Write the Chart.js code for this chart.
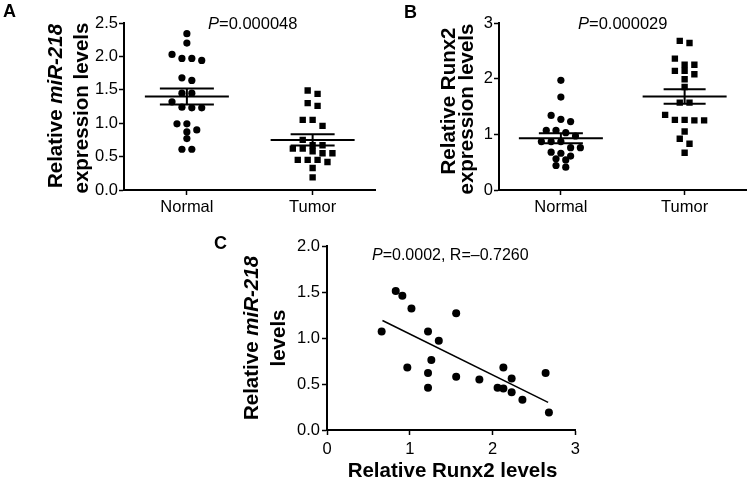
<!DOCTYPE html>
<html lang="en">
<head>
    <meta charset="UTF-8">
    <title>miR-218 and Runx2 expression</title>
    <script src="https://cdn.jsdelivr.net/npm/chart.js"></script>
    <style>
        body { margin: 0; background: #fff; }
        #fig {
            position: relative;
            width: 751px;
            height: 478px;
            overflow: hidden;
            font-family: Arial, "Liberation Sans", Helvetica, sans-serif;
            color: #000;
        }
        .panel { position: absolute; }
        .lbl { position: absolute; white-space: nowrap; line-height: 20px; }
        .letter { font-weight: bold; font-size: 18px; }
        .pval { font-size: 16.5px; }
        .title { font-weight: bold; font-size: 20.5px; }
        .ytitle { transform: translate(-50%, -50%) rotate(-90deg); }
        .xtitle { transform: translate(-50%, -50%); }
    </style>
</head>
<body>
<div id="fig">
    <canvas id="chartA" class="panel" width="380" height="230" style="left:0;top:0;width:380px;height:230px"></canvas>
    <canvas id="chartB" class="panel" width="376" height="230" style="left:375px;top:0;width:376px;height:230px"></canvas>
    <canvas id="chartC" class="panel" width="370" height="248" style="left:215px;top:230px;width:370px;height:248px"></canvas>

    <div class="lbl letter" style="left:3px;top:1px">A</div>
    <div class="lbl letter" style="left:404px;top:2px">B</div>
    <div class="lbl letter" style="left:214px;top:233px">C</div>

    <div class="lbl pval" style="left:208px;top:13px"><i>P</i>=0.000048</div>
    <div class="lbl pval" style="left:578px;top:13px"><i>P</i>=0.000029</div>
    <div class="lbl pval" style="left:372px;top:245px;font-size:16px"><i>P</i>=0.0002, R=&ndash;0.7260</div>

    <div class="lbl title ytitle" style="left:54.5px;top:105.5px">Relative <i>miR-218</i></div>
    <div class="lbl title ytitle" style="left:80.5px;top:107.5px">expression levels</div>
    <div class="lbl title ytitle" style="left:448px;top:100.7px">Relative Runx2</div>
    <div class="lbl title ytitle" style="left:466px;top:109px">expression levels</div>
    <div class="lbl title ytitle" style="left:251px;top:337.5px">Relative <i>miR-218</i></div>
    <div class="lbl title ytitle" style="left:278px;top:338px">levels</div>
    <div class="lbl title xtitle" style="left:452.5px;top:470px">Relative Runx2 levels</div>
</div>

<script>
    // ---- data ----
    const groups = ['Normal', 'Tumor'];

    // A: miR-218 expression
    const mirNormal = [2.34, 2.20, 1.97, 1.94, 1.97, 2.03, 1.68, 1.64, 1.45, 1.45, 1.32,
                       1.23, 1.23, 1.24, 0.99, 0.99, 0.87, 0.90, 0.77, 0.61, 0.61];
    const mirTumor = [1.44, 1.49, 1.30, 1.26, 1.05, 1.05, 0.96, 0.75, 0.67, 0.62, 0.58,
                      0.62, 0.67, 0.55, 0.55, 0.45, 0.45, 0.42, 0.45, 0.33, 0.19];
    const mirMean = [1.40, 0.75];
    const mirSem = [0.12, 0.085];
    const mirTicks = [0, 0.5, 1.0, 1.5, 2.0, 2.5];

    // B: Runx2 expression
    const runxNormal = [1.97, 1.67, 1.34, 1.23, 1.27, 1.07, 1.03, 1.07, 0.97, 0.87, 0.87,
                        0.87, 0.76, 0.76, 0.66, 0.68, 0.61, 0.54, 0.56, 0.41, 0.44];
    const runxTumor = [2.68, 2.64, 2.36, 2.25, 2.25, 2.14, 2.08, 2.14, 1.99, 1.85, 1.57,
                       1.57, 1.35, 1.25, 1.25, 1.26, 1.26, 1.05, 0.92, 0.83, 0.67];
    const runxMean = [0.93, 1.68];
    const runxSem = [0.09, 0.13];
    const runxTicks = [0, 1, 2, 3];

    // C: correlation
    const corrRunx2 = [0.66, 0.83, 0.91, 1.02, 1.22, 1.35, 1.26, 0.97, 1.22, 1.22, 1.56,
                       1.56, 1.84, 2.06, 2.13, 2.13, 2.23, 2.23, 2.36, 2.64, 2.68];
    const corrMir = [1.07, 1.51, 1.46, 1.32, 1.07, 0.97, 0.76, 0.68, 0.62, 0.46, 1.27,
                     0.58, 0.55, 0.46, 0.45, 0.68, 0.56, 0.41, 0.33, 0.62, 0.19];
    const fitRunx2 = [0.67, 2.67];
    const fitMir = [1.19, 0.30];
    const corrXTicks = [0, 1, 2, 3];
    const corrYTicks = [0, 0.5, 1.0, 1.5, 2.0];

    // ---- helpers ----
    Chart.defaults.font.family = 'Arial, "Liberation Sans", Helvetica, sans-serif';
    Chart.defaults.color = '#000';

    // spread points of one group into rows, like a dot plot
    function swarm(values, center, pxPerX, pxPerY) {
        const tolPx = 6.5, stepPx = 10;
        const order = values.map((v, i) => i).sort((a, b) => values[b] - values[a]);
        const rows = [];
        order.forEach(i => {
            const row = rows[rows.length - 1];
            if (row && (values[row[0]] - values[i]) * pxPerY <= tolPx) row.push(i);
            else rows.push([i]);
        });
        const pts = [];
        rows.forEach(row => row.forEach((i, k) => {
            pts.push({ x: center + (k - (row.length - 1) / 2) * stepPx / pxPerX, y: values[i] });
        }));
        return pts;
    }

    function axis(ticks, size, isX, fmt, pad) {
        return {
            type: 'linear',
            min: ticks[0] === undefined ? undefined : ticks[0],
            max: ticks[ticks.length - 1],
            afterBuildTicks: s => { s.ticks = ticks.map(v => ({ value: v })); },
            afterFit: s => { if (isX) s.height = size; else s.width = size; },
            grid: { drawOnChartArea: false, drawTicks: true, tickLength: 5, tickWidth: 1.5, tickColor: '#000' },
            border: { color: '#000', width: 2 },
            ticks: { color: '#000', font: { size: 16.5 }, padding: pad, maxRotation: 0, autoSkip: false, callback: fmt }
        };
    }

    const meanSem = {
        id: 'meanSem',
        afterDatasetsDraw(chart, args, opts) {
            const { ctx, scales: { x, y } } = chart;
            ctx.save();
            ctx.strokeStyle = '#000';
            ctx.lineWidth = 2;
            opts.means.forEach((m, i) => {
                const cx = x.getPixelForValue(i + 1);
                const ym = y.getPixelForValue(m);
                const yt = y.getPixelForValue(m + opts.sems[i]);
                const yb = y.getPixelForValue(m - opts.sems[i]);
                const h = opts.semHalf[i];
                ctx.beginPath();
                ctx.moveTo(cx - opts.meanHalf, ym); ctx.lineTo(cx + opts.meanHalf, ym);
                ctx.moveTo(cx - h, yt); ctx.lineTo(cx + h, yt);
                ctx.moveTo(cx - h, yb); ctx.lineTo(cx + h, yb);
                ctx.moveTo(cx, yt); ctx.lineTo(cx, yb);
                ctx.stroke();
            });
            ctx.restore();
        }
    };

    function dotPlot(id, normal, tumor, ticks, fmt, means, sems, semHalf) {
        const pxPerX = 254 / 2;
        const pxPerY = 167 / (ticks[ticks.length - 1] - ticks[0]);
        return new Chart(document.getElementById(id), {
            type: 'scatter',
            data: {
                datasets: [{
                    data: swarm(normal, 1, pxPerX, pxPerY),
                    pointStyle: 'circle', pointRadius: 3.6, pointHoverRadius: 3.6,
                    backgroundColor: '#000', borderWidth: 0
                }, {
                    data: swarm(tumor, 2, pxPerX, pxPerY),
                    pointStyle: 'rect', pointRadius: 4.5, pointHoverRadius: 4.5,
                    backgroundColor: '#000', borderWidth: 0
                }]
            },
            options: {
                responsive: false,
                animation: false,
                layout: { padding: { left: 0, top: 23, right: 2, bottom: 0 } },
                scales: {
                    x: Object.assign(axis([0.5, 1, 2, 2.5], 40, true, v => groups[v - 1], 3), {
                        afterBuildTicks: s => { s.ticks = [{ value: 1 }, { value: 2 }]; }
                    }),
                    y: axis(ticks, 124, false, fmt, 1)
                },
                plugins: {
                    legend: { display: false },
                    tooltip: { enabled: false },
                    meanSem: { means, sems, meanHalf: 42, semHalf }
                }
            },
            plugins: [meanSem]
        });
    }

    dotPlot('chartA', mirNormal, mirTumor, mirTicks, v => v.toFixed(1), mirMean, mirSem, [27, 22]);
    dotPlot('chartB', runxNormal, runxTumor, runxTicks, v => String(v), runxMean, runxSem, [22, 21]);

    new Chart(document.getElementById('chartC'), {
        type: 'scatter',
        data: {
            datasets: [{
                data: corrRunx2.map((x, i) => ({ x, y: corrMir[i] })),
                pointStyle: 'circle', pointRadius: 4, pointHoverRadius: 4,
                backgroundColor: '#000', borderWidth: 0
            }, {
                type: 'line',
                data: fitRunx2.map((x, i) => ({ x, y: fitMir[i] })),
                borderColor: '#000', borderWidth: 1.5, pointRadius: 0, fill: false
            }]
        },
        options: {
            responsive: false,
            animation: false,
            layout: { padding: { left: 0, top: 16, right: 8, bottom: 0 } },
            scales: {
                x: axis(corrXTicks, 48, true, v => String(v), 5),
                y: axis(corrYTicks, 112, false, v => v.toFixed(1), 2)
            },
            plugins: { legend: { display: false }, tooltip: { enabled: false } }
        }
    });
</script>
</body>
</html>
